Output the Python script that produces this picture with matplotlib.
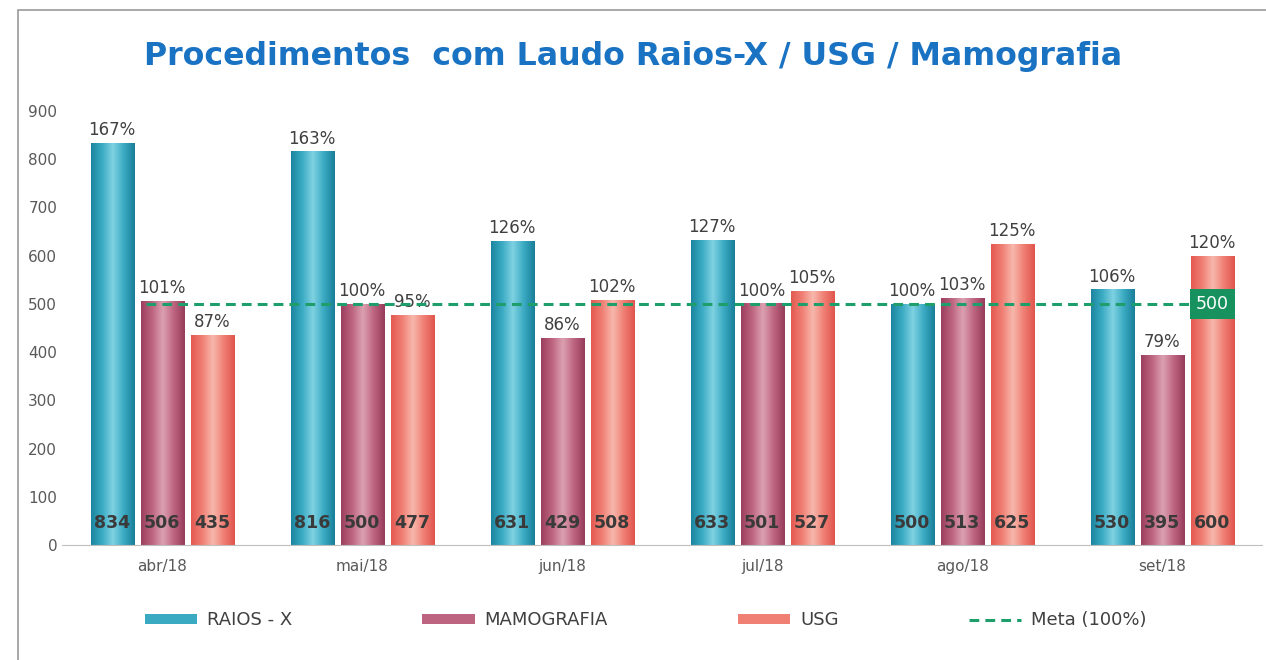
import numpy as np
import matplotlib.pyplot as plt
from matplotlib.colors import LinearSegmentedColormap
from matplotlib.patches import Patch, Rectangle
from matplotlib.lines import Line2D

# dados
meses = ['abr/18', 'mai/18', 'jun/18', 'jul/18', 'ago/18', 'set/18']
raios_x = [834, 816, 631, 633, 500, 530]
mamografia = [506, 500, 429, 501, 513, 395]
usg = [435, 477, 508, 527, 625, 600]
meta = 500

series = [
    ('RAIOS - X', raios_x, ['#1c86a0', '#3aaac3', '#7fd2e2', '#3aaac3', '#1a7f99']),
    ('MAMOGRAFIA', mamografia, ['#9c3f5f', '#bd6580', '#dca0b1', '#bd6580', '#983b5b']),
    ('USG', usg, ['#e35a52', '#f07f74', '#f8b8ac', '#f07f74', '#e0554d']),
]

plt.rcParams['font.family'] = ['DejaVu Sans']

fig = plt.figure(figsize=(12.66, 6.6), dpi=100)
ax = fig.add_axes([0.049, 0.174, 0.948, 0.658])

w = 0.215
desloc = [-0.25, 0, 0.25]
x = np.arange(len(meses))


def barra_gradiente(ax, xc, h, cores):
    cmap = LinearSegmentedColormap.from_list('g', cores)
    grad = np.linspace(0, 1, 100).reshape(1, -1)
    b = ax.bar(xc, h, w, color=cores[1], linewidth=0, zorder=2)[0]
    im = ax.imshow(grad, cmap=cmap, extent=[xc - w / 2, xc + w / 2, 0, h],
                   aspect='auto', zorder=2.5)
    im.set_clip_path(b)


for (nome, vals, cores), d in zip(series, desloc):
    for xi, v in zip(x, vals):
        barra_gradiente(ax, xi + d, v, cores)
        ax.text(xi + d, v + 8, f'{v / meta:.0%}', ha='center', va='bottom',
                fontsize=12, color='#404040', zorder=5)
        ax.text(xi + d, 45, str(v), ha='center', va='center', fontsize=12.5,
                fontweight='bold', color='#3a3a3a', zorder=5)

linha = Line2D([-0.08, 5.25], [meta, meta], color='#1e9e6a', lw=2.2, zorder=6)
linha.set_dashes([3.2, 2])
ax.add_line(linha)
ax.text(5.25, meta, str(meta), ha='center', va='center', fontsize=12.5,
        color='white', zorder=7,
        bbox=dict(boxstyle='square,pad=0.35', fc='#17925f', ec='none'))

ax.set_xlim(-0.5, 5.5)
ax.set_ylim(0, 900)
ax.set_yticks(range(0, 901, 100))
ax.set_xticks(x)
ax.set_xticklabels(meses)
ax.tick_params(length=0, labelsize=11, labelcolor='#595959')
ax.tick_params(axis='x', pad=10)
for s in ['left', 'top', 'right']:
    ax.spines[s].set_visible(False)
ax.spines['bottom'].set_color('#bfbfbf')

fig.text(0.5, 0.914, 'Procedimentos  com Laudo Raios-X / USG / Mamografia',
         ha='center', va='center', fontsize=22.8, fontweight='bold', color='#1a72c2')

# moldura
fig.patches.append(Rectangle((0.014, -0.02), 1.0, 1.005, transform=fig.transFigure,
                             fill=False, ec='#9a9a9a', lw=1.2))

handles = [Patch(fc=c[1], ec='none') for _, _, c in series]
meta_h = Line2D([], [], color='#1e9e6a', lw=2.2)
meta_h.set_dashes([3.2, 2])
handles.append(meta_h)
labels = [n for n, _, _ in series] + ['Meta (100%)']
fig.legend(handles, labels, loc='center', bbox_to_anchor=(0.51, 0.06), ncol=4,
           frameon=False, fontsize=13, handlelength=2.9, handleheight=0.45,
           columnspacing=7.2, handletextpad=0.55, labelcolor='#404040')

fig.savefig('out.png', dpi=100)
